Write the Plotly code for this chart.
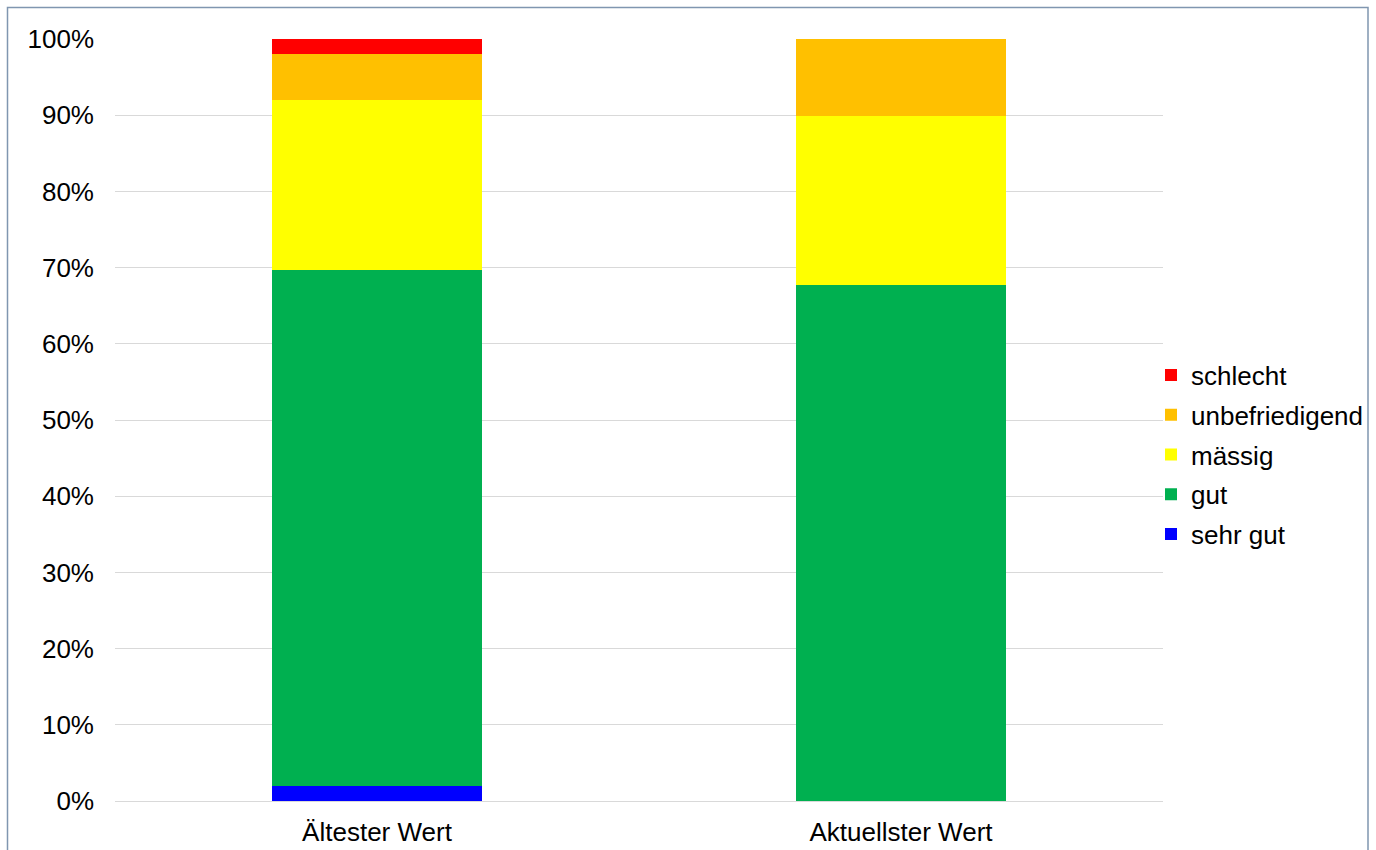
import plotly.graph_objects as go

categories = ["Ältester Wert", "Aktuellster Wert"]
series_names = ["sehr gut", "gut", "mässig", "unbefriedigend", "schlecht"]
sehr_gut = [2.0, 0.0]
gut = [67.7, 67.7]
maessig = [22.3, 22.2]
unbefriedigend = [6.0, 10.1]
schlecht = [2.0, 0.0]
colors = ["#0000FF", "#00B050", "#FFFF00", "#FFC000", "#FF0000"]
y_ticks = [0, 10, 20, 30, 40, 50, 60, 70, 80, 90, 100]
y_tick_labels = [f"{v}%" for v in y_ticks]

values = [sehr_gut, gut, maessig, unbefriedigend, schlecht]

W, H = 1376, 850
ml, mr, mt, mb = 115, 213, 39, 49
pw, ph = W - ml - mr, H - mt - mb

fig = go.Figure()
n = len(series_names)
for i, (name, vals, col) in enumerate(zip(series_names, values, colors)):
    fig.add_trace(go.Bar(
        x=categories, y=vals, name=name, legendgroup=name,
        legendrank=n - i,
        marker=dict(color=col, line=dict(width=0)),
        hoverinfo="name+y",
    ))

font = dict(family="Liberation Sans, Arial, sans-serif", size=26, color="#000000")

def px2x(px):
    return (px - ml) / pw

def px2y(py):
    return (H - mb - py) / ph

fig.update_layout(
    width=W, height=H,
    margin=dict(l=ml, r=mr, t=mt, b=mb, autoexpand=False),
    barmode="stack",
    bargap=0.6,
    plot_bgcolor="white",
    paper_bgcolor="white",
    font=font,
    showlegend=True,
    legend=dict(
        x=px2x(1151), xanchor="left",
        y=px2y(455), yanchor="middle",
        traceorder="grouped",
        tracegroupgap=3,
        itemwidth=30,
        font=dict(size=26),
        bgcolor="rgba(0,0,0,0)",
    ),
    xaxis=dict(
        showgrid=False, showline=False, ticks="",
        ticklabelstandoff=13,
        tickfont=font,
    ),
    yaxis=dict(
        range=[0, 100],
        tickvals=y_ticks, ticktext=y_tick_labels,
        showgrid=True, gridcolor="#D9D9D9", gridwidth=1.3,
        zeroline=True, zerolinecolor="#D9D9D9", zerolinewidth=1.3,
        showline=False, ticks="",
        ticklabelstandoff=20,
        tickfont=font,
    ),
    shapes=[dict(
        type="rect", xref="paper", yref="paper",
        x0=px2x(7.5), x1=px2x(1368), y0=px2y(860), y1=px2y(7.5),
        line=dict(color="#8096B0", width=1.5),
        fillcolor="rgba(0,0,0,0)", layer="below",
    )],
)

fig.write_html("out.html")
